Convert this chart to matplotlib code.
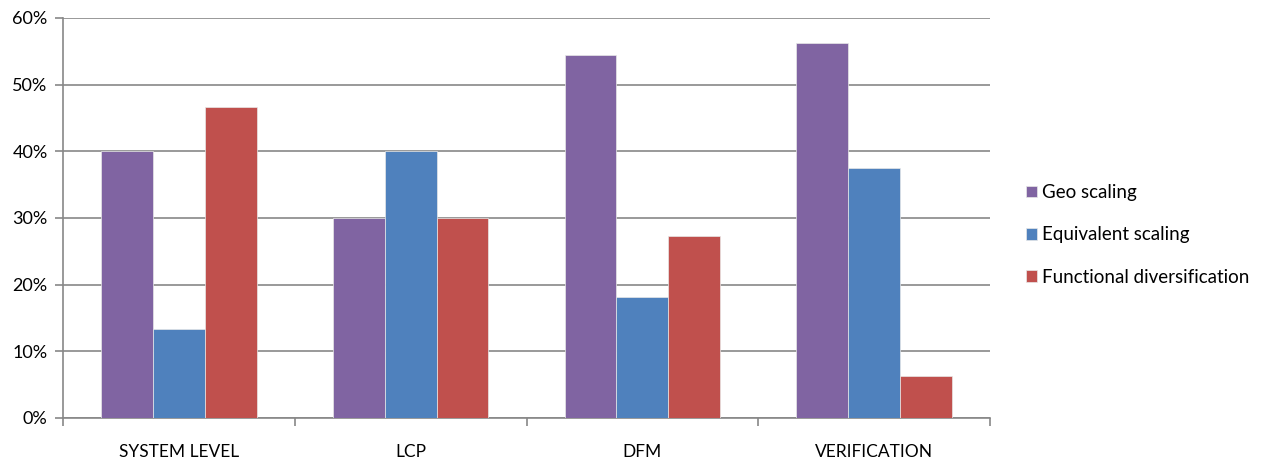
import numpy as np
import matplotlib.pyplot as plt
from matplotlib.ticker import FixedLocator, NullFormatter

categories = ['SYSTEM LEVEL', 'LCP', 'DFM', 'VERIFICATION']
geo_scaling = [40.0, 30.0, 54.5, 56.25]
equivalent_scaling = [13.3, 40.0, 18.2, 37.5]
functional_div = [46.7, 30.0, 27.3, 6.25]
series_names = ['Geo scaling', 'Equivalent scaling', 'Functional diversification']
colors = ['#8064A2', '#4F81BD', '#C0504D']

plt.rcParams['font.family'] = ['Lato', 'DejaVu Sans']

fig = plt.figure(figsize=(12.68, 4.58), dpi=100)
ax = fig.add_axes([63 / 1268, 40 / 458, 927 / 1268, 400 / 458])

x = np.arange(len(categories))
w = 0.224
for i, (vals, name) in enumerate(zip([geo_scaling, equivalent_scaling, functional_div], series_names)):
    ax.bar(x + (i - 1) * w, vals, width=w, color=colors[i], label=name,
           edgecolor='#e8e8e8', linewidth=0.5, zorder=3)

ax.set_xlim(-0.5, len(categories) - 0.5)
ax.set_ylim(0, 60)
ax.set_yticks(range(0, 61, 10))
ax.set_yticklabels([f'{v}%' for v in range(0, 61, 10)], fontsize=13)
ax.yaxis.grid(True, color='#878787', linewidth=1.2, zorder=0)

# category ticks sit on the group boundaries, labels in the middle
ax.xaxis.set_major_locator(FixedLocator(np.arange(-0.5, len(categories), 1.0)))
ax.xaxis.set_major_formatter(NullFormatter())
ax.xaxis.set_minor_locator(FixedLocator(x))
ax.set_xticklabels(categories, minor=True, fontsize=12.5)
ax.tick_params(axis='x', which='minor', length=0, pad=19)
ax.tick_params(axis='x', which='major', length=6, color='#878787', width=1.2)
ax.tick_params(axis='y', length=6, color='#878787', width=1.2, pad=5)

for side in ['top', 'right']:
    ax.spines[side].set_visible(False)
for side in ['left', 'bottom']:
    ax.spines[side].set_color('#878787')
    ax.spines[side].set_linewidth(1.2)

fig.legend(loc='center left', bbox_to_anchor=(1018 / 1268, 0.487), frameon=False,
           fontsize=13.5, handlelength=0.6, handleheight=0.6, handletextpad=0.3,
           labelspacing=1.35, borderaxespad=0)

fig.savefig('out.png', dpi=100)
